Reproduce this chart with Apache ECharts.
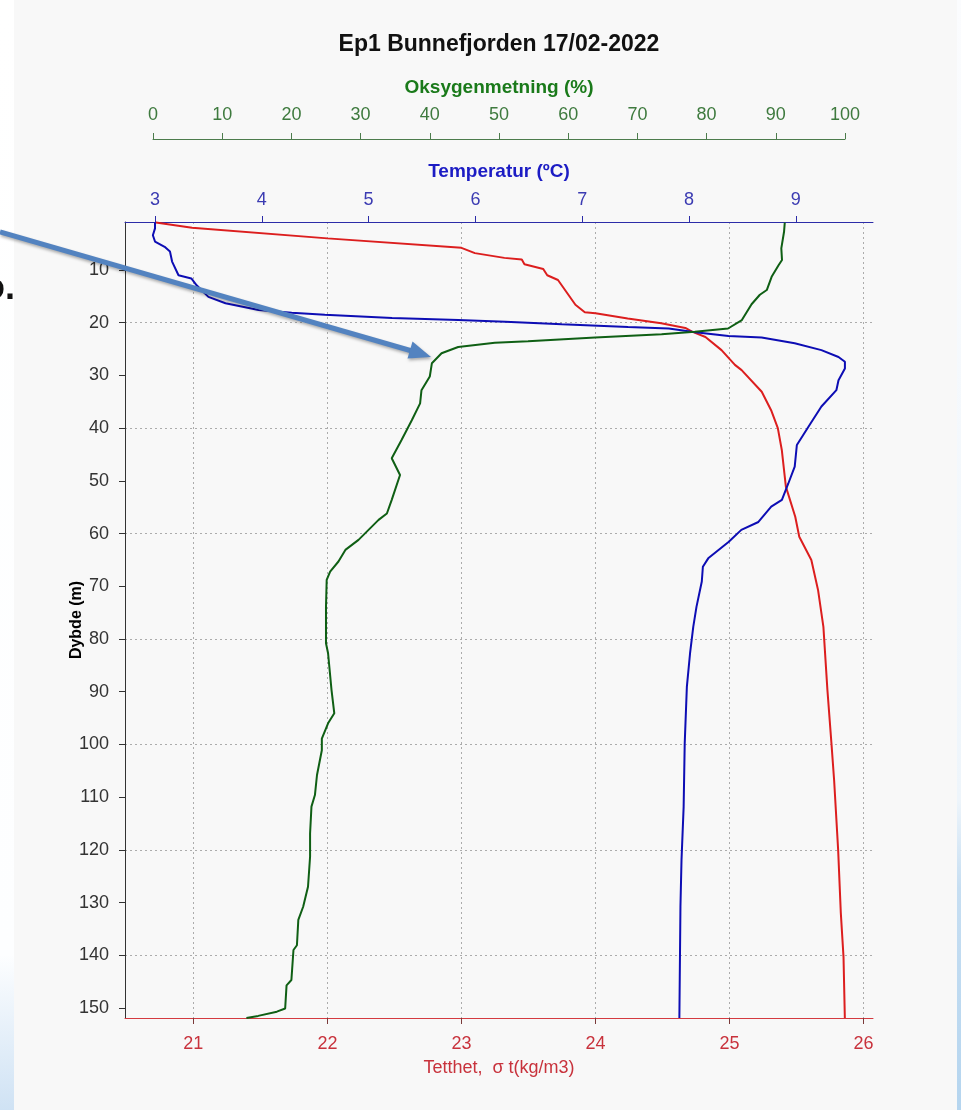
<!DOCTYPE html>
<html>
<head>
<meta charset="utf-8">
<title>Ep1 Bunnefjorden 17/02-2022</title>
<script src="https://cdn.jsdelivr.net/npm/echarts@6/dist/echarts.min.js"></script>
<style>
  html, body { margin: 0; padding: 0; background: #f8f8f8; }
  #chart { width: 961px; height: 1110px; }
</style>
</head>
<body>
<div id="chart"></div>
<script>
// CTD profile, station Ep1 Bunnefjorden, 17.02.2022
const titleText = 'Ep1 Bunnefjorden 17/02-2022';

// Density (sigma-t, kg/m3) against depth (m)
const densityDepth = [1.0, 2.0, 4.0, 5.8, 6.8, 7.7, 8.0, 8.9, 9.8, 11.0, 11.9, 16.6, 18.0, 18.2, 19.2, 20.1, 21.0, 21.7, 22.7, 25.2, 28.0, 29.0, 33.1, 36.6, 40.0, 44.2, 51.1, 56.8, 60.6, 65.0, 70.7, 77.7, 89.7, 99.8, 106.8, 120.0, 132.0, 140.3, 151.9];
const densityValue = [20.72, 20.99, 22.0, 23.0, 23.1, 23.32, 23.45, 23.47, 23.61, 23.64, 23.72, 23.85, 23.92, 24.0, 24.24, 24.49, 24.67, 24.72, 24.82, 24.94, 25.04, 25.09, 25.24, 25.31, 25.36, 25.39, 25.42, 25.49, 25.52, 25.61, 25.66, 25.70, 25.73, 25.76, 25.78, 25.81, 25.83, 25.85, 25.86];

// Temperature (ºC) against depth (m)
const tempDepth = [1.0, 2.1, 3.4, 4.6, 5.6, 6.5, 8.4, 11.0, 11.6, 12.9, 15.1, 16.3, 17.6, 18.1, 18.5, 19.1, 19.5, 19.8, 20.3, 20.8, 21.1, 21.8, 22.5, 22.8, 23.9, 25.2, 26.5, 27.4, 28.7, 30.9, 32.8, 35.9, 39.7, 43.2, 47.3, 50.5, 53.6, 54.9, 57.8, 59.3, 61.6, 64.7, 66.3, 69.1, 73.9, 77.7, 82.7, 89.1, 99.8, 111.8, 121.9, 130.8, 151.9];
const tempValue = [3.0, 3.0, 2.98, 3.0, 3.09, 3.14, 3.16, 3.22, 3.34, 3.39, 3.5, 3.66, 3.97, 4.28, 4.59, 5.22, 5.84, 6.28, 6.81, 7.43, 7.81, 8.06, 8.37, 8.68, 8.99, 9.24, 9.4, 9.46, 9.46, 9.4, 9.38, 9.24, 9.12, 9.01, 8.99, 8.93, 8.87, 8.77, 8.65, 8.49, 8.37, 8.18, 8.13, 8.12, 8.07, 8.04, 8.01, 7.98, 7.96, 7.95, 7.93, 7.92, 7.91];

// Oxygen saturation (%) against depth (m)
const oxyDepth = [1.0, 2.7, 5.9, 8.1, 9.1, 11.3, 13.8, 14.7, 16.5, 19.5, 21.1, 21.7, 22.2, 22.8, 23.5, 23.8, 24.6, 25.8, 27.7, 30.2, 32.8, 35.3, 38.5, 42.3, 45.7, 48.9, 53.6, 56.2, 57.4, 61.2, 63.1, 65.3, 67.2, 68.8, 73.9, 80.8, 82.7, 89.7, 94.1, 96.0, 98.9, 101.1, 105.8, 109.6, 111.8, 116.9, 121.3, 127.0, 130.8, 133.3, 138.1, 139.0, 144.7, 145.7, 150.1, 150.7, 151.5, 151.9];
const oxyValue = [91.3, 91.2, 90.8, 90.9, 90.4, 89.4, 88.7, 87.7, 86.5, 85.1, 83.1, 78.3, 73.5, 63.9, 54.2, 49.4, 44.1, 41.7, 40.3, 40.0, 38.8, 38.6, 37.4, 35.9, 34.5, 35.7, 34.5, 33.8, 32.6, 29.7, 27.8, 26.8, 25.6, 25.1, 25.0, 25.0, 25.3, 25.8, 26.2, 25.3, 24.4, 24.4, 23.7, 23.4, 22.9, 22.7, 22.7, 22.4, 21.7, 21.0, 20.8, 20.3, 20.0, 19.3, 19.1, 17.9, 15.2, 13.5];

// Tick labels
const depthTicks = [10, 20, 30, 40, 50, 60, 70, 80, 90, 100, 110, 120, 130, 140, 150];
const depthGridLines = [20, 40, 60, 80, 100, 120, 140];
const densityTicks = [21, 22, 23, 24, 25, 26];
const tempTicks = [3, 4, 5, 6, 7, 8, 9];

const FONT = "'Liberation Sans', Arial, sans-serif";
const RED = '#dc1e1e', BLUE = '#0d0db4', GREEN = '#0f5f14';

const pairs = (xs, ys) => ys.map((y, i) => [xs[i], y]);

const chart = echarts.init(document.getElementById('chart'), null, { renderer: 'canvas' });

chart.setOption({
  animation: false,
  backgroundColor: '#f8f8f8',
  textStyle: { fontFamily: FONT },
  grid: [
    { left: 125, top: 222, width: 748, height: 796, containLabel: false },
    { left: 153, top: 139, width: 692, height: 1, containLabel: false }
  ],
  xAxis: [
    { // density, bottom
      type: 'value', gridIndex: 0, position: 'bottom',
      min: 20.49, max: 26.07,
      axisLine: { show: true, onZero: false, lineStyle: { color: '#d43a40', width: 1 } },
      axisTick: { show: true, length: 6, customValues: densityTicks, lineStyle: { color: '#7a3a3a' } },
      axisLabel: { customValues: densityTicks, color: '#c8323c', fontSize: 18, margin: 17, fontFamily: FONT },
      splitLine: { show: true, lineStyle: { color: '#acacac', width: 1, type: [2, 3] } },
      name: 'Tetthet,  σ t(kg/m3)', nameLocation: 'middle', nameGap: 41, nameMoveOverlap: false,
      nameTextStyle: { color: '#c8323c', fontSize: 18, fontFamily: FONT }
    },
    { // temperature, top of plot
      type: 'value', gridIndex: 0, position: 'top',
      min: 2.719, max: 9.723,
      axisLine: { show: true, onZero: false, lineStyle: { color: '#2c2ca8', width: 1 } },
      axisTick: { show: true, length: 6, customValues: tempTicks, lineStyle: { color: '#2c2ca8' } },
      axisLabel: { customValues: tempTicks, color: '#3b3bb2', fontSize: 18, margin: 13, fontFamily: FONT },
      splitLine: { show: false },
      name: 'Temperatur (ºC)', nameLocation: 'middle', nameGap: 41, nameMoveOverlap: false,
      nameTextStyle: { color: '#1c1cc4', fontSize: 19, fontWeight: 'bold', fontFamily: FONT }
    },
    { // oxygen scale inside the plot
      type: 'value', gridIndex: 0, position: 'top', show: false,
      min: -4.046, max: 104.05,
      splitLine: { show: false }
    },
    { // oxygen axis drawn above
      type: 'value', gridIndex: 1, position: 'top',
      min: 0, max: 100, interval: 10,
      axisLine: { show: true, onZero: false, lineStyle: { color: '#4c7c4c', width: 1 } },
      axisTick: { show: true, length: 6, lineStyle: { color: '#4c7c4c' } },
      axisLabel: { color: '#3e7a3e', fontSize: 18, margin: 15, fontFamily: FONT },
      splitLine: { show: false },
      name: 'Oksygenmetning (%)', nameLocation: 'middle', nameGap: 42, nameMoveOverlap: false,
      nameTextStyle: { color: '#1a7a1a', fontSize: 19, fontWeight: 'bold', fontFamily: FONT }
    }
  ],
  yAxis: [
    { // depth
      type: 'value', gridIndex: 0, position: 'left', inverse: true,
      min: 0.894, max: 151.9,
      axisLine: { show: true, onZero: false, lineStyle: { color: '#333333', width: 1 } },
      axisTick: { show: true, length: 6, customValues: depthTicks, lineStyle: { color: '#333333' } },
      axisLabel: { customValues: depthTicks, color: '#333333', fontSize: 18, margin: 16, fontFamily: FONT },
      splitLine: { show: false },
      name: 'Dybde (m)', nameLocation: 'middle', nameGap: 40, nameMoveOverlap: false,
      nameTextStyle: { color: '#000000', fontSize: 16, fontWeight: 'bold', fontFamily: FONT }
    },
    { // horizontal dotted grid every 20 m
      type: 'value', gridIndex: 0, position: 'left', inverse: true,
      min: 0.894, max: 151.9,
      axisLine: { show: false },
      axisTick: { show: false, customValues: depthGridLines },
      axisLabel: { show: false, customValues: depthGridLines },
      splitLine: { show: true, lineStyle: { color: '#acacac', width: 1, type: [2, 3] } }
    },
    { type: 'value', gridIndex: 1, show: false, min: 0, max: 1, splitLine: { show: false } }
  ],
  series: [
    {
      name: 'Tetthet', type: 'line', xAxisIndex: 0, yAxisIndex: 0,
      data: pairs(densityValue, densityDepth),
      showSymbol: false, symbol: 'none', clip: true,
      lineStyle: { color: RED, width: 2 }, itemStyle: { color: RED }, z: 3
    },
    {
      name: 'Temperatur', type: 'line', xAxisIndex: 1, yAxisIndex: 0,
      data: pairs(tempValue, tempDepth),
      showSymbol: false, symbol: 'none', clip: true,
      lineStyle: { color: BLUE, width: 2 }, itemStyle: { color: BLUE }, z: 4
    },
    {
      name: 'Oksygenmetning', type: 'line', xAxisIndex: 2, yAxisIndex: 0,
      data: pairs(oxyValue, oxyDepth),
      showSymbol: false, symbol: 'none', clip: true,
      lineStyle: { color: GREEN, width: 2 }, itemStyle: { color: GREEN }, z: 5
    }
  ],
  graphic: [
    { // slide edge, left
      type: 'rect', z: 0, silent: true,
      shape: { x: 0, y: 0, width: 14, height: 1110 },
      style: { fill: new echarts.graphic.LinearGradient(0, 0, 0, 1, [
        { offset: 0, color: '#ffffff' }, { offset: 0.86, color: '#fdfeff' }, { offset: 1, color: '#cfe2f4' }
      ]) }
    },
    { // slide edge, right
      type: 'rect', z: 0, silent: true,
      shape: { x: 957, y: 0, width: 4, height: 1110 },
      style: { fill: new echarts.graphic.LinearGradient(0, 0, 0, 1, [
        { offset: 0, color: '#fbfcfe' }, { offset: 0.72, color: '#eef5fb' }, { offset: 0.8, color: '#c6def2' }, { offset: 1, color: '#b5d5ef' }
      ]) }
    },
    {
      type: 'text', z: 10, x: 499, y: 45,
      style: { text: titleText, fill: '#111111', font: "bold 23px " + FONT, align: 'center', verticalAlign: 'middle' }
    },
    { // fragment of text running in from the left
      type: 'text', z: 10, x: -17, y: 289,
      style: { text: 'o.', fill: '#111111', font: "bold 36px " + FONT, align: 'left', verticalAlign: 'middle' }
    },
    { // pointer arrow
      type: 'group', z: 100,
      children: [
        {
          type: 'line', z: 100,
          shape: { x1: 0, y1: 232, x2: 412, y2: 351 },
          style: { stroke: '#5383c0', lineWidth: 5, shadowBlur: 3, shadowColor: 'rgba(0,0,0,0.3)', shadowOffsetX: 1, shadowOffsetY: 2 }
        },
        {
          type: 'polygon', z: 100,
          shape: { points: [[431, 357], [407.5, 358.5], [412.5, 341.5]] },
          style: { fill: '#5383c0', shadowBlur: 3, shadowColor: 'rgba(0,0,0,0.3)', shadowOffsetX: 1, shadowOffsetY: 2 }
        }
      ]
    }
  ]
});
</script>
</body>
</html>
